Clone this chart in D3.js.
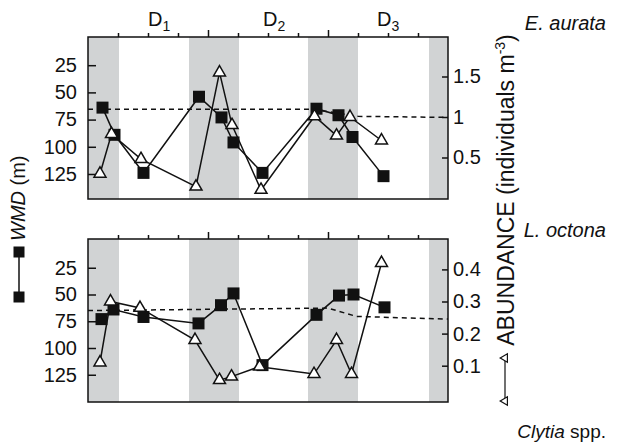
<!DOCTYPE html>
<html>
<head>
<meta charset="utf-8">
<script src="https://cdn.jsdelivr.net/npm/d3@7"></script>
<style>
  body { margin: 0; background: #fff; }
  text { font-family: "Liberation Sans", Arial, sans-serif; fill: #111; }
</style>
</head>
<body>
<div id="chart"></div>
<script>
// time axis in hours from start of sampling (0-72 h)
const hourTicks = [6, 12, 18, 24, 30, 36, 42, 48, 54, 60, 66]
const majorTicks = [24, 48]
const nights = [[0, 6.2], [20.2, 30.2], [44, 54], [68.2, 72]]
const dayNames = ['1', '2', '3']
const dayHours = [12, 35, 57.8]

const wmdTicks = [25, 50, 75, 100, 125]
const abTicksTop = [0.5, 1, 1.5]
const abTicksBottom = [0.1, 0.2, 0.3, 0.4]

// E. aurata
const auratWmdTime = [2.9, 5.3, 11.1, 22.2, 26.7, 29.1, 34.9, 45.7, 50.1, 52.9, 59.1]
const auratWmd = [64, 89, 124, 54, 73, 96, 124, 65, 71, 91, 127]
const auratAbTime = [2.4, 4.7, 10.6, 21.6, 26.3, 28.8, 34.6, 45.3, 49.7, 52.4, 58.7]
const auratAb = [0.30, 0.79, 0.48, 0.14, 1.55, 0.90, 0.10, 1.01, 0.77, 1.00, 0.71]
const auratRefTime = [0, 45, 54, 72]
const auratRef = [65.5, 65.5, 72, 73]

// L. octona (WMD) and Clytia spp. (abundance)
const octonaWmdTime = [2.7, 5.1, 11.1, 22.1, 26.6, 29.1, 34.9, 45.7, 50.2, 53.1, 59.3]
const octonaWmd = [73, 64, 71, 77, 60, 49, 116, 69, 51, 50, 62]
const clytiaAbTime = [2.4, 4.5, 10.4, 21.4, 26.3, 28.7, 34.3, 45.2, 49.7, 52.7, 58.7]
const clytiaAb = [0.11, 0.30, 0.28, 0.18, 0.055, 0.066, 0.097, 0.074, 0.18, 0.074, 0.42]
const octonaRefTime = [0, 48, 53.7, 72]
const octonaRef = [65, 62.7, 70.5, 73]

const W = 618
const H = 444
const left = 88
const right = 448
const grey = '#d1d3d4'

const svg = d3.select('#chart').append('svg').attr('width', W).attr('height', H)

const x = d3.scaleLinear().domain([0, 72]).range([left, right])

const panels = [
  {
    top: 37, bottom: 199,
    yW: d3.scaleLinear().domain([0, 148]).range([38, 199]),
    yA: d3.scaleLinear().domain([0, 2]).range([198, 36]),
    abTicks: abTicksTop,
    wT: auratWmdTime, w: auratWmd, aT: auratAbTime, a: auratAb,
    rT: auratRefTime, r: auratRef
  },
  {
    top: 239, bottom: 402,
    yW: d3.scaleLinear().domain([0, 150]).range([241, 401.5]),
    yA: d3.scaleLinear().domain([0, 0.5]).range([397.8, 237.3]),
    abTicks: abTicksBottom,
    wT: octonaWmdTime, w: octonaWmd, aT: clytiaAbTime, a: clytiaAb,
    rT: octonaRefTime, r: octonaRef
  }
]

panels.forEach(function (p) {
  let g = svg.append('g')

  // night shading
  g.selectAll('rect.night')
    .data(nights)
    .enter().append('rect')
      .attr('x', (d) => x(d[0]))
      .attr('width', (d) => x(d[1]) - x(d[0]))
      .attr('y', p.top)
      .attr('height', p.bottom - p.top)
      .attr('fill', grey)

  // time ticks above the frame
  let top = g.append('g')
      .attr('transform', 'translate(0,' + p.top + ')')
      .call(d3.axisTop(x).tickValues(hourTicks).tickSize(4).tickFormat(''))
  top.select('.domain').remove()
  top.selectAll('.tick line')
      .attr('y2', (d) => majorTicks.includes(d) ? -7 : -4)
      .attr('stroke', '#111').attr('stroke-width', 1.5)

  // WMD axis on the left, ticks inside
  let la = g.append('g')
      .attr('transform', 'translate(' + left + ',0)')
      .call(d3.axisLeft(p.yW).tickValues(wmdTicks).tickSize(-8).tickPadding(11))
  la.select('.domain').remove()
  la.selectAll('.tick line').attr('stroke', '#111').attr('stroke-width', 1.5)
  la.selectAll('.tick text').attr('font-size', 20).attr('fill', '#111')
      .style('font-family', '"Liberation Sans", Arial, sans-serif')

  // abundance axis on the right, ticks inside
  let ra = g.append('g')
      .attr('transform', 'translate(' + right + ',0)')
      .call(d3.axisRight(p.yA).tickValues(p.abTicks).tickSize(-6).tickPadding(5)
        .tickFormat(d3.format('~g')))
  ra.select('.domain').remove()
  ra.selectAll('.tick line').attr('stroke', '#111').attr('stroke-width', 1.5)
  ra.selectAll('.tick text').attr('font-size', 20).attr('fill', '#111')
      .style('font-family', '"Liberation Sans", Arial, sans-serif')

  // dashed reference depth
  g.append('path')
      .datum(p.rT.map((t, i) => [t, p.r[i]]))
      .attr('fill', 'none').attr('stroke', '#111').attr('stroke-width', 1.5)
      .attr('stroke-dasharray', '5,4')
      .attr('d', d3.line().x((d) => x(d[0])).y((d) => p.yW(d[1])))

  // WMD series (squares)
  let wPts = p.wT.map((t, i) => [t, p.w[i]])
  g.append('path')
      .datum(wPts)
      .attr('fill', 'none').attr('stroke', '#111').attr('stroke-width', 1.5)
      .attr('d', d3.line().x((d) => x(d[0])).y((d) => p.yW(d[1])))

  // abundance series (triangles)
  let aPts = p.aT.map((t, i) => [t, p.a[i]])
  g.append('path')
      .datum(aPts)
      .attr('fill', 'none').attr('stroke', '#111').attr('stroke-width', 1.5)
      .attr('d', d3.line().x((d) => x(d[0])).y((d) => p.yA(d[1])))

  g.selectAll('rect.sq')
    .data(wPts)
    .enter().append('rect')
      .attr('x', (d) => x(d[0]) - 6)
      .attr('y', (d) => p.yW(d[1]) - 6)
      .attr('width', 12).attr('height', 12)
      .attr('fill', '#111')

  g.selectAll('path.tri')
    .data(aPts)
    .enter().append('path')
      .attr('transform', (d) => 'translate(' + x(d[0]) + ',' + p.yA(d[1]) + ')')
      .attr('d', d3.symbol().type(d3.symbolTriangle).size(62))
      .attr('fill', '#fff').attr('stroke', '#111').attr('stroke-width', 1.5)

  // frame
  g.append('rect')
      .attr('x', left).attr('y', p.top)
      .attr('width', right - left).attr('height', p.bottom - p.top)
      .attr('fill', 'none').attr('stroke', '#111').attr('stroke-width', 1.5)
})

// day labels
dayNames.forEach(function (n, i) {
  let t = svg.append('text').attr('x', x(dayHours[i])).attr('y', 26)
      .attr('font-size', 20)
  t.append('tspan').text('D')
  t.append('tspan').attr('font-size', 14).attr('dy', 5).text(n)
})

// left title and legend
let wl = svg.append('text').attr('transform', 'translate(25,241) rotate(-90)').attr('font-size', 20)
wl.append('tspan').attr('font-style', 'italic').text('WMD')
wl.append('tspan').text(' (m)')
svg.append('line').attr('x1', 19).attr('x2', 19).attr('y1', 252).attr('y2', 297)
    .attr('stroke', '#111').attr('stroke-width', 1.5)
svg.selectAll('rect.leg')
  .data([252, 297])
  .enter().append('rect')
    .attr('x', 13.5).attr('y', (d) => d - 5.5).attr('width', 11).attr('height', 11).attr('fill', '#111')

// right title and legend
let al = svg.append('text').attr('transform', 'translate(514,190) rotate(-90)')
    .attr('font-size', 23).attr('text-anchor', 'middle')
al.append('tspan').text('ABUNDANCE (individuals m')
al.append('tspan').attr('font-size', 14).attr('dy', -9).text('-3')
al.append('tspan').attr('dy', 9).text(')')
svg.append('line').attr('x1', 505).attr('x2', 505).attr('y1', 358).attr('y2', 401)
    .attr('stroke', '#111').attr('stroke-width', 1.2)
svg.selectAll('path.leg')
  .data([358, 401])
  .enter().append('path')
    .attr('transform', (d) => 'translate(505,' + d + ') rotate(-90)')
    .attr('d', d3.symbol().type(d3.symbolTriangle).size(30))
    .attr('fill', '#fff').attr('stroke', '#111').attr('stroke-width', 1.2)

svg.append('text').attr('x', 606).attr('y', 30).attr('font-size', 20)
    .attr('text-anchor', 'end').attr('font-style', 'italic').text('E. aurata')
svg.append('text').attr('x', 606).attr('y', 237).attr('font-size', 20)
    .attr('text-anchor', 'end').attr('font-style', 'italic').text('L. octona')
let cl = svg.append('text').attr('x', 606).attr('y', 438).attr('font-size', 19).attr('text-anchor', 'end')
cl.append('tspan').attr('font-style', 'italic').text('Clytia')
cl.append('tspan').text(' spp.')
</script>
</body>
</html>
